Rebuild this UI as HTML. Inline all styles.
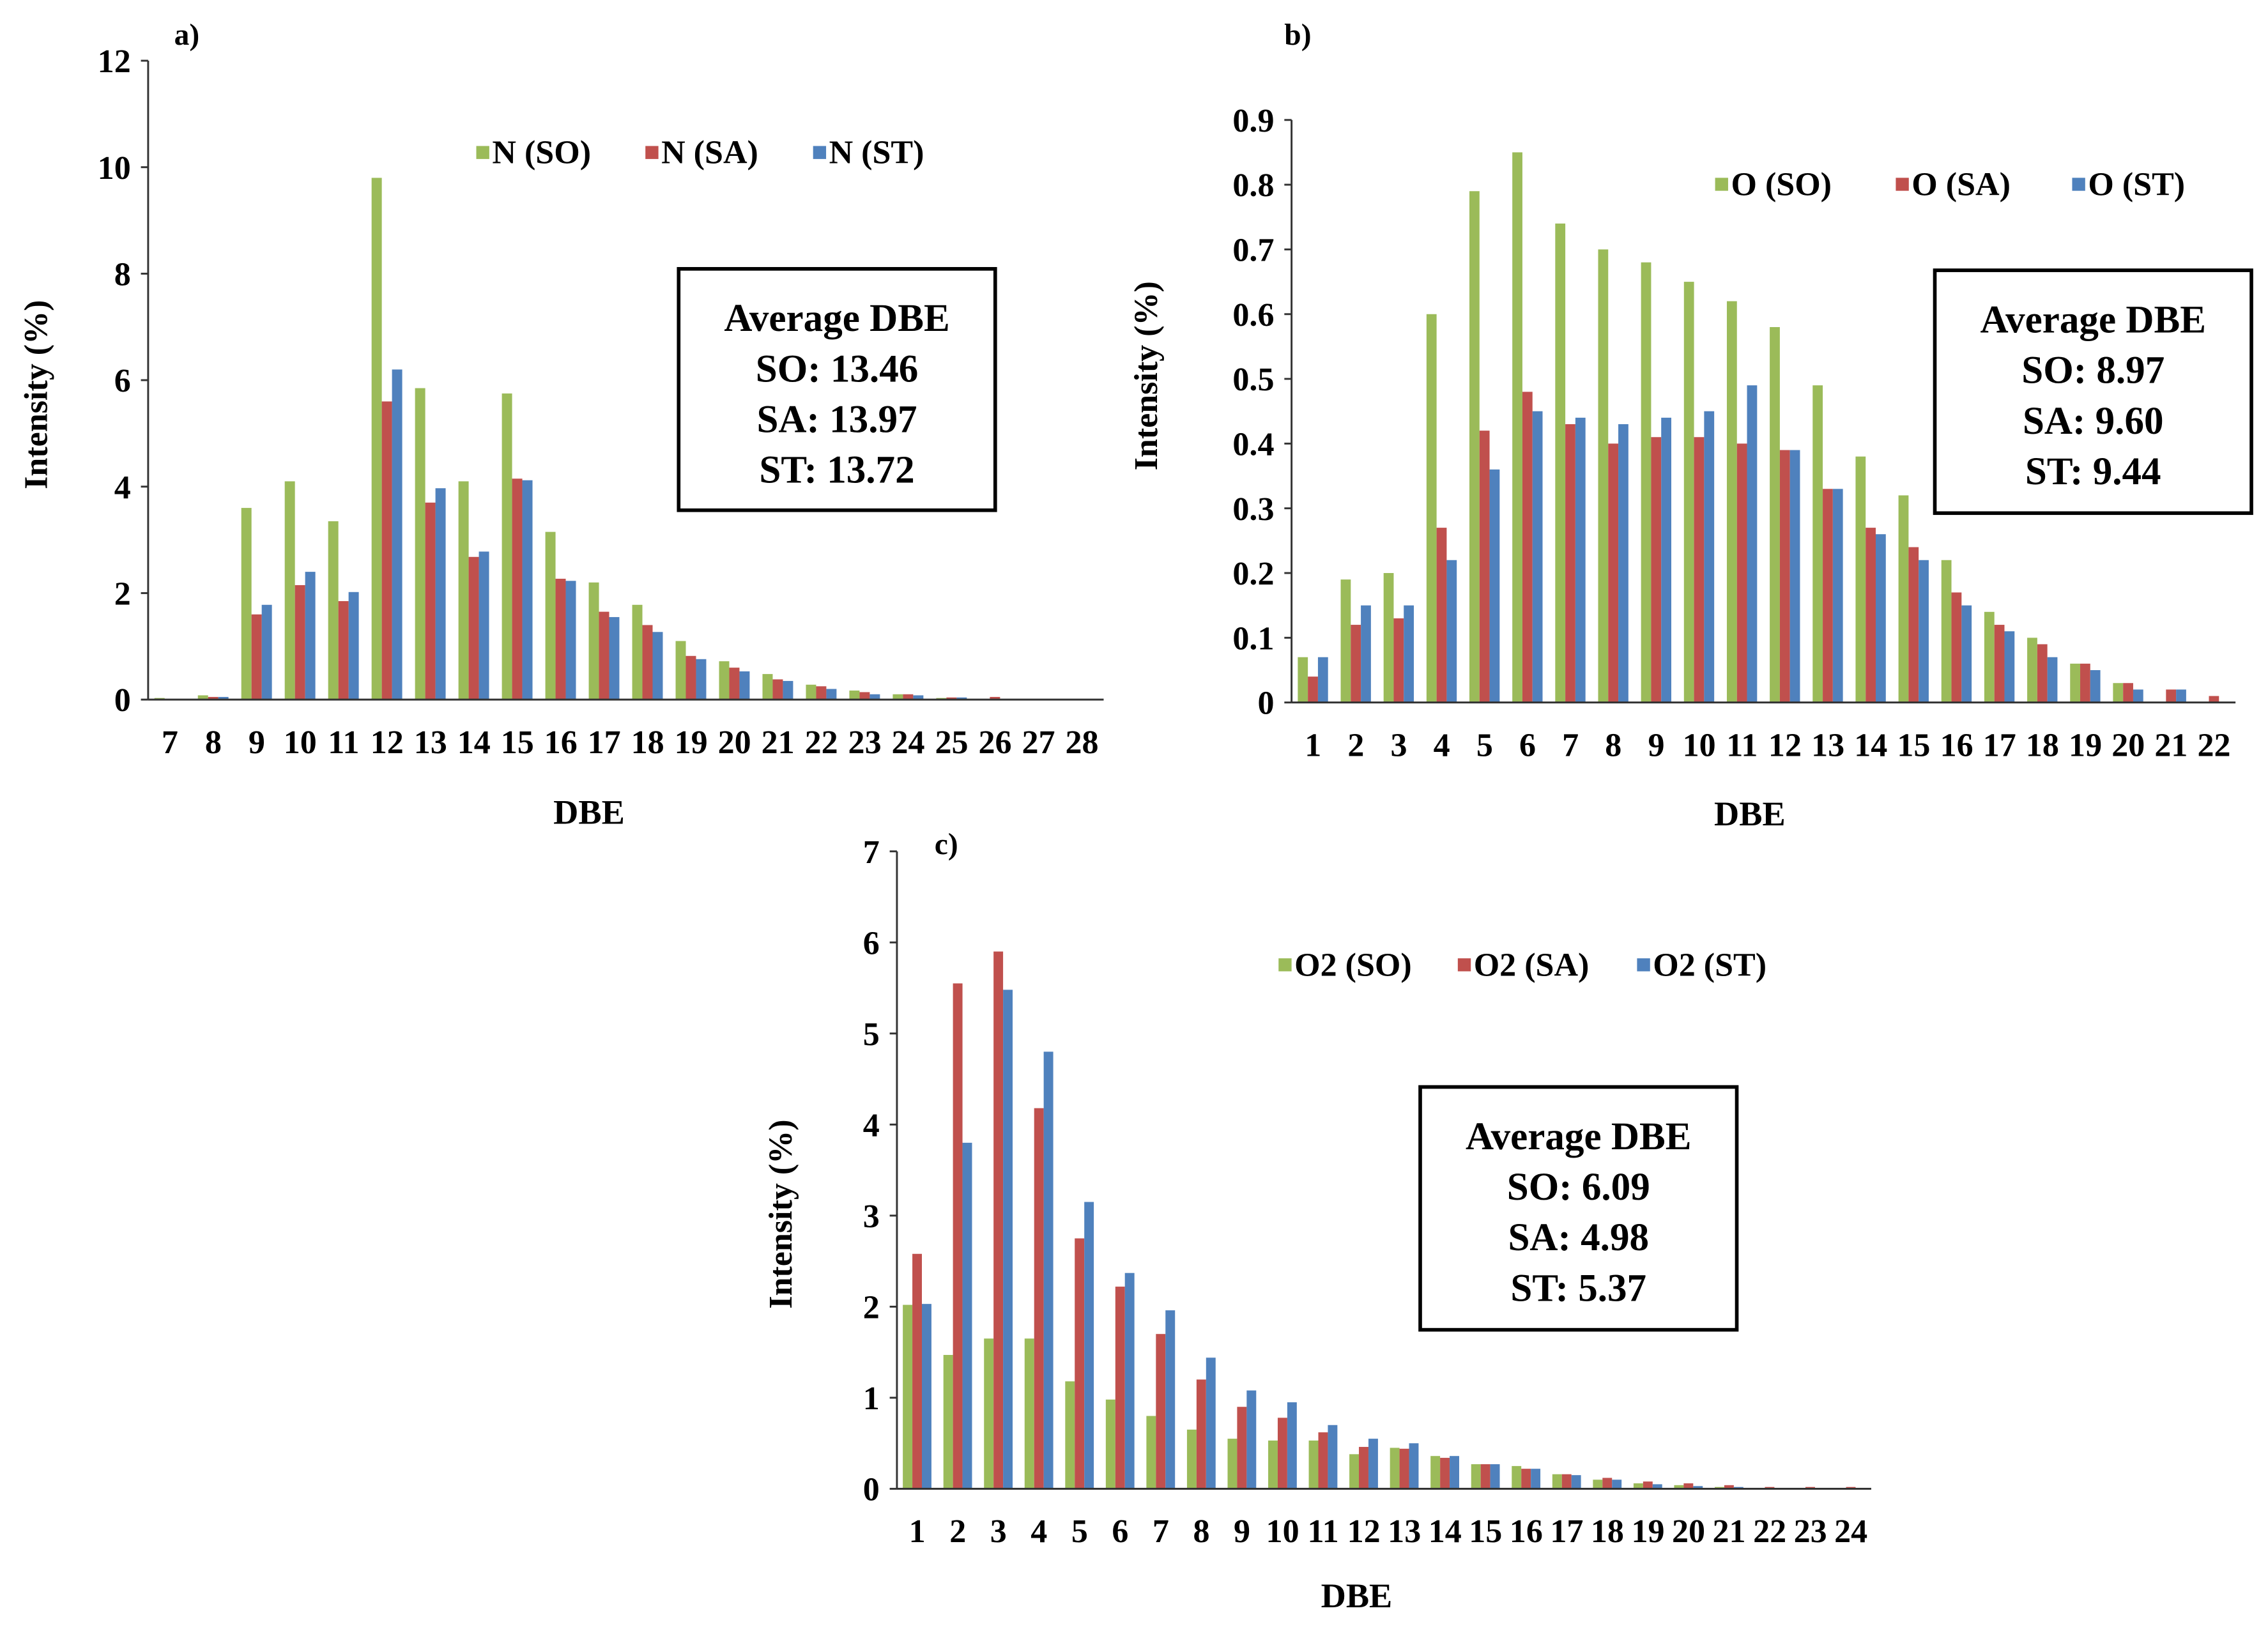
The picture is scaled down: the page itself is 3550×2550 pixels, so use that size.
<!DOCTYPE html>
<html><head><meta charset="utf-8"><style>
html,body{margin:0;padding:0;background:#fff;}
svg{display:block;}
text{font-family:"Liberation Serif",serif;font-weight:bold;fill:#000;}
</style></head><body>
<svg id="fig" xmlns="http://www.w3.org/2000/svg" width="3550" height="2550" viewBox="0 0 1568 1127">
<rect x="0" y="0" width="1568" height="1127" fill="#fff"/>
</svg>
<script>
const catsA = [7,8,9,10,11,12,13,14,15,16,17,18,19,20,21,22,23,24,25,26,27,28];
const soA = [0.03,0.08,3.6,4.1,3.35,9.8,5.85,4.1,5.75,3.15,2.2,1.78,1.1,0.72,0.48,0.28,0.17,0.1,0.03,0,0,0];
const saA = [0,0.05,1.6,2.15,1.85,5.6,3.7,2.68,4.15,2.27,1.65,1.4,0.82,0.6,0.38,0.25,0.14,0.1,0.04,0.05,0,0];
const stA = [0,0.05,1.78,2.4,2.02,6.2,3.97,2.78,4.12,2.23,1.55,1.27,0.76,0.53,0.35,0.2,0.1,0.08,0.04,0,0,0];
const ticksA = ["0","2","4","6","8","10","12"];
const tickValsA = [0,2,4,6,8,10,12];

const catsB = [1,2,3,4,5,6,7,8,9,10,11,12,13,14,15,16,17,18,19,20,21,22];
const soB = [0.07,0.19,0.20,0.60,0.79,0.85,0.74,0.70,0.68,0.65,0.62,0.58,0.49,0.38,0.32,0.22,0.14,0.10,0.06,0.03,0,0];
const saB = [0.04,0.12,0.13,0.27,0.42,0.48,0.43,0.40,0.41,0.41,0.40,0.39,0.33,0.27,0.24,0.17,0.12,0.09,0.06,0.03,0.02,0.01];
const stB = [0.07,0.15,0.15,0.22,0.36,0.45,0.44,0.43,0.44,0.45,0.49,0.39,0.33,0.26,0.22,0.15,0.11,0.07,0.05,0.02,0.02,0];
const ticksB = ["0","0.1","0.2","0.3","0.4","0.5","0.6","0.7","0.8","0.9"];
const tickValsB = [0,0.1,0.2,0.3,0.4,0.5,0.6,0.7,0.8,0.9];

const catsC = [1,2,3,4,5,6,7,8,9,10,11,12,13,14,15,16,17,18,19,20,21,22,23,24];
const soC = [2.02,1.47,1.65,1.65,1.18,0.98,0.8,0.65,0.55,0.53,0.53,0.38,0.45,0.36,0.27,0.25,0.16,0.1,0.06,0.04,0.02,0.01,0.01,0.01];
const saC = [2.58,5.55,5.9,4.18,2.75,2.22,1.7,1.2,0.9,0.78,0.62,0.46,0.44,0.34,0.27,0.22,0.16,0.12,0.08,0.06,0.04,0.02,0.02,0.02];
const stC = [2.03,3.8,5.48,4.8,3.15,2.37,1.96,1.44,1.08,0.95,0.7,0.55,0.5,0.36,0.27,0.22,0.15,0.1,0.05,0.03,0.02,0.01,0.01,0.01];
const ticksC = ["0","1","2","3","4","5","6","7"];
const tickValsC = [0,1,2,3,4,5,6,7];

const NS = "http://www.w3.org/2000/svg";
const svg = document.getElementById('fig');
const COLORS = ["#9bbb59","#c0504d","#4f81bd"];
function mk(tag, attrs, parent){
  const e = document.createElementNS(NS, tag);
  for (const k in attrs) e.setAttribute(k, attrs[k]);
  (parent||svg).appendChild(e);
  return e;
}
function txt(x,y,s,size,anchor,parent){
  const t = mk('text',{x:x,y:y,'font-size':size,'text-anchor':anchor||'middle'},parent);
  t.textContent = s;
  return t;
}

function panel(p){
  const g = mk('g',{});
  
  
  const n = p.cats.length;
  const step = (p.x1 - p.x0)/n;
  const xc = i => p.x0 + step*(i+0.5);
  const ys = v => p.y0 - (v/p.ymax)*(p.y0 - p.yTop);
  const series = [p.so,p.sa,p.st];
  const bw = step*0.235;
  series.forEach((arr,si)=>{
    arr.forEach((v,i)=>{
      if (v<=0) return;
      const r = mk('rect',{x:xc(i)-step*0.355+si*bw, y:ys(v), width:bw, height:p.y0-ys(v), fill:COLORS[si]}, g);
      
      
    });
  });
  const ya = mk('line',{x1:p.x0,y1:p.yTop,x2:p.x0,y2:p.y0,stroke:'#333','stroke-width':1.3},g);
  
  
  const xa = mk('line',{x1:p.x0,y1:p.y0,x2:p.x1,y2:p.y0,stroke:'#333','stroke-width':1.3},g);
  
  
  p.tickVals.forEach((v,i)=>{
    mk('line',{x1:p.x0-5,y1:ys(v),x2:p.x0,y2:ys(v),stroke:'#333','stroke-width':1.3},g);
    const t = txt(p.x0-12, ys(v)+8, p.ticks[i], 23, 'end', g);
    
    
  });
  p.cats.forEach((c,i)=>{
    const t = txt(xc(i), p.y0+37, String(c), 23, 'middle', g);
    
    
  });
  const xt = txt(p.xTitle[0], p.xTitle[1], 'DBE', 24, 'middle', g);
  
  
  const yt = txt(0,0,'Intensity (%)',23,'middle',g);
  yt.setAttribute('transform','translate('+p.yTitle[0]+','+p.yTitle[1]+') rotate(-90)');
  
  
  const pl = txt(p.label[0], p.label[1], p.labelText, 21, 'start', g);
  
  
  p.legendNames.forEach((nm,i)=>{
    const lx = p.legendX[i];
    const sq = mk('rect',{x:lx, y:p.legendY-12, width:9, height:9, fill:COLORS[i]}, g);
    
    
    const lt = txt(lx+11, p.legendY, nm, 23, 'start', g);
    
    
  });
  const b = p.box;
  const br = mk('rect',{x:b[0], y:b[1], width:b[2]-b[0], height:b[3]-b[1], fill:'#fff', stroke:'#000','stroke-width':2.5}, g);
  
  
  const cx = (b[0]+b[2])/2;
  p.boxLines.forEach((s,i)=>{
    const t = txt(cx, b[1]+43+i*35, s, 27, 'middle', g);
    
    
  });
}

panel({name:'panel-a-n-class', key:'a', cats:catsA, so:soA, sa:saA, st:stA, ticks:ticksA, tickVals:tickValsA, ymax:12,
  x0:102, x1:763, y0:484, yTop:42, xTitle:[407,570], yTitle:[32,273], label:[120,31], labelText:'a)',
  legendNames:['N (SO)','N (SA)','N (ST)'], legendX:[329,446,562], legendY:113,
  box:[469,186,688,353], boxLines:['Average DBE','SO: 13.46','SA: 13.97','ST: 13.72']});
panel({name:'panel-b-o-class', key:'b', cats:catsB, so:soB, sa:saB, st:stB, ticks:ticksB, tickVals:tickValsB, ymax:0.9,
  x0:893, x1:1546, y0:486, yTop:83, xTitle:[1210,571], yTitle:[800,260], label:[888,31], labelText:'b)',
  legendNames:['O (SO)','O (SA)','O (ST)'], legendX:[1186,1311,1433], legendY:135,
  box:[1338,187,1557,355], boxLines:['Average DBE','SO: 8.97','SA: 9.60','ST: 9.44']});
panel({name:'panel-c-o2-class', key:'c', cats:catsC, so:soC, sa:saC, st:stC, ticks:ticksC, tickVals:tickValsC, ymax:7,
  x0:620, x1:1294, y0:1030, yTop:589, xTitle:[938,1112], yTitle:[547,840], label:[646,591], labelText:'c)',
  legendNames:['O2 (SO)','O2 (SA)','O2 (ST)'], legendX:[884,1008,1132], legendY:675,
  box:[982,752,1201,920], boxLines:['Average DBE','SO: 6.09','SA: 4.98','ST: 5.37']});
</script>
</body></html>
